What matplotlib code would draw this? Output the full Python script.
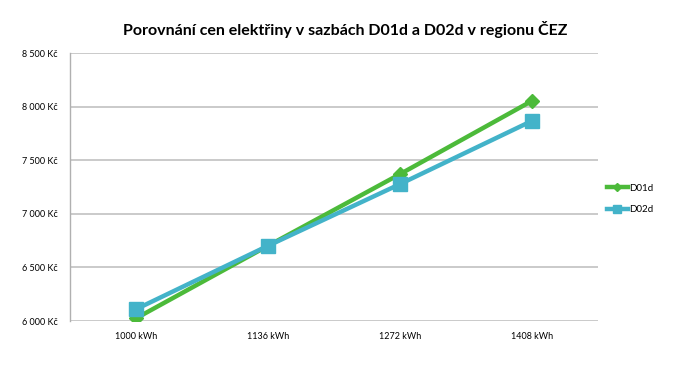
import matplotlib
matplotlib.use('Agg')
from matplotlib import pyplot as plt

# data
kategorie = ['1000 kWh', '1136 kWh', '1272 kWh', '1408 kWh']
d01d = [6025, 6702, 7371, 8055]
d02d = [6110, 6702, 7278, 7868]
yticks = [6000, 6500, 7000, 7500, 8000, 8500]

plt.rcParams['font.family'] = ['Lato', 'DejaVu Sans']

fig = plt.figure(figsize=(6.84, 3.77), dpi=100)
ax = fig.add_axes([0.1023, 0.1485, 0.772, 0.7105])

x = range(len(kategorie))
ax.plot(x, d01d, color='#4cba3a', lw=3.2, marker='D', ms=7, label='D01d', zorder=3)
ax.plot(x, d02d, color='#43b3c9', lw=3.2, marker='s', ms=10, label='D02d', zorder=4)

ax.set_xlim(-0.5, 3.5)
ax.set_ylim(6000, 8500)
ax.set_xticks(list(x))
ax.set_xticklabels(kategorie, fontsize=6.5)
ax.set_yticks(yticks)
ax.set_yticklabels([('%d' % v)[0] + ' ' + ('%d' % v)[1:] + ' Kč' for v in yticks], fontsize=6.5)
ax.tick_params(length=0, pad=8)
ax.tick_params(axis='y', pad=9)

ax.grid(axis='y', color='#c6c6c6', lw=1.3)
ax.set_axisbelow(True)
for s in ['top', 'right', 'bottom']:
    ax.spines[s].set_visible(False)
ax.spines['left'].set_color('#b0b0b0')
ax.spines['left'].set_linewidth(1.0)

fig.suptitle('Porovnání cen elektřiny v sazbách D01d a D02d v regionu ČEZ',
             x=0.505, y=0.945, fontsize=11.5, fontweight='bold')

leg = ax.legend(loc='center left', bbox_to_anchor=(1.0, 0.455), frameon=False,
                fontsize=7, handlelength=2.2, handletextpad=0.1, labelspacing=1.3,
                markerscale=0.6)

fig.savefig('out.png', dpi=100)
